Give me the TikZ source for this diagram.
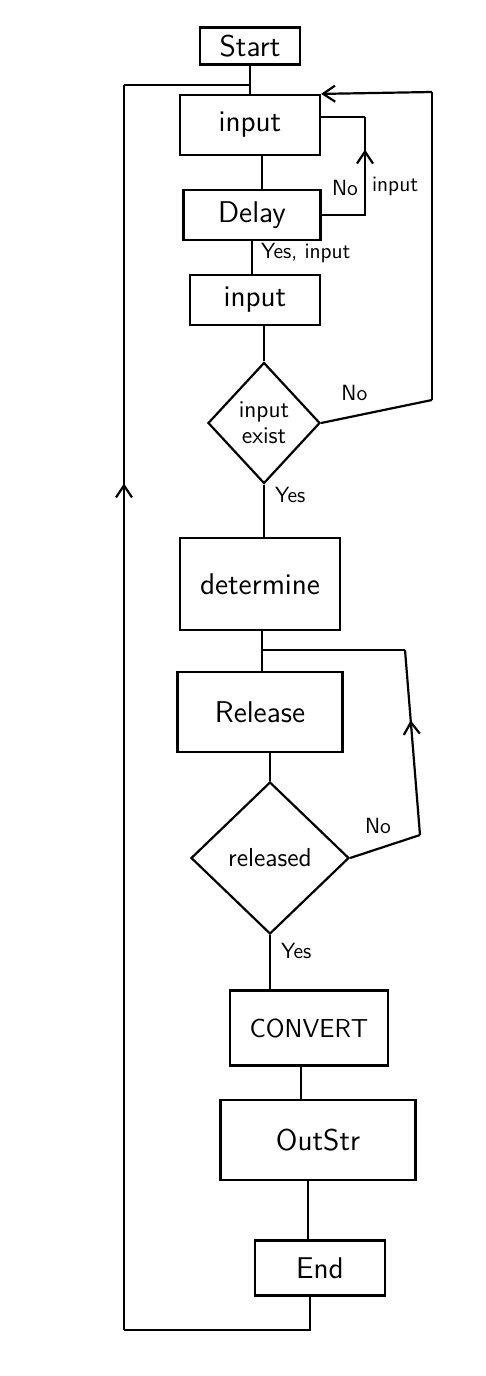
\documentclass[tikz,border=0pt]{standalone}
\usetikzlibrary{shapes.geometric,arrows.meta,decorations.markings}
\begin{document}
\begin{tikzpicture}[x=0.5pt,y=-0.5pt,
  every path/.style={line width=1.1pt},
  box/.style={draw, rectangle, inner sep=2pt, font=\sffamily\fontsize{15}{17}\selectfont},
  dec/.style={draw, diamond, inner sep=0pt, align=center, font=\sffamily\fontsize{12}{13}\selectfont},
  lbl/.style={font=\sffamily\fontsize{11}{12}\selectfont, inner sep=1pt},
  midup/.style={postaction={decorate, decoration={markings,
     mark=at position #1 with {\arrow{Straight Barb[length=6pt,width=8pt]}}}}},
  endarrow/.style={-{Straight Barb[length=6pt,width=8pt]}}
]
\useasboundingbox (0,0) rectangle (486,1376);

% nodes
\node[box, minimum width=50pt, minimum height=18.5pt] (start) at (250,46) {Start};
\node[box, minimum width=70pt, minimum height=30pt] (in1) at (250,125) {input};
\node[box, minimum width=68.5pt, minimum height=25pt] (delay) at (252,215) {Delay};
\node[box, minimum width=65pt, minimum height=25pt] (in2) at (255,300) {input};
\node[dec, minimum width=56pt, minimum height=60.5pt] (d1) at (264,423) {input\\exist};
\node[box, minimum width=80pt, minimum height=46pt] (det) at (260,584) {determine};
\node[box, minimum width=82.5pt, minimum height=40pt] (rel) at (260,712) {Release};
\node[dec, minimum width=79pt, minimum height=76pt, font=\sffamily\fontsize{13}{14}\selectfont] (d2) at (270,858) {released};
\node[box, minimum width=79pt, minimum height=37.5pt, font=\sffamily\fontsize{13}{15}\selectfont] (conv) at (309,1028) {CONVERT};
\node[box, minimum width=97.5pt, minimum height=40pt] (out) at (318,1140) {OutStr};
\node[box, minimum width=65pt, minimum height=27.5pt] (end) at (320,1268) {End};

% helper coordinates
\coordinate (jtop) at (250,85);
\coordinate (lbl1) at (124,1330);
\coordinate (ltl) at (124,85);
\coordinate (dl1) at (365,117);
\coordinate (nr1) at (432,400);
\coordinate (nr2) at (432,92);
\coordinate (rr1) at (420,835);
\coordinate (rr2) at (405,650);
\coordinate (jrel) at (262,650);

% main flow
\draw (start) -- (in1);
\draw ([xshift=6pt]in1.south) -- ([xshift=6pt]in1.south |- delay.north);
\draw (delay.south) -- node[lbl, right=3pt, pos=0.35] {Yes, input} (delay.south |- in2.north);
\draw (d1.north |- in2.south) -- (d1.north);
\draw (d1.south) -- node[lbl, right=4pt, pos=0.2] {Yes} (d1.south |- det.north);
\draw (jrel |- det.south) -- (jrel |- rel.north);
\draw (d2.north |- rel.south) -- (d2.north);
\draw (d2.south) -- node[lbl, right=4pt, pos=0.3] {Yes} (d2.south |- conv.north);
\draw ([xshift=-4pt]conv.south) -- ([xshift=-4pt]conv.south |- out.north);
\draw ([xshift=-5pt]out.south) -- ([xshift=-5pt]out.south |- end.north);

% outer loop from End back to top
\draw ([xshift=-5pt]end.south) |- (lbl1);
\draw[midup=0.68] (lbl1) -- (ltl);
\draw (ltl) -- (jtop);

% Delay "No input" loop
\draw (delay.east) -| (365,210);
\draw[midup=0.65] (365,210) -- (dl1);
\draw (dl1) -- (in1.east |- dl1);
\node[lbl, anchor=east] (noA) at (361,188) {No};
\node[lbl, anchor=west] (inputA) at (369,186) {input};

% input exist "No" loop
\draw (d1.east) -- node[lbl, above=6pt, pos=0.3] {No} (nr1);
\draw (nr1) -- (nr2);
\draw[endarrow] (nr2) -- (in1.north east);

% released "No" loop
\draw (d2.east) -- node[lbl, above=6pt, pos=0.4] {No} (rr1);
\draw[midup=0.62] (rr1) -- (rr2);
\draw (rr2) -- (jrel);
\end{tikzpicture}
\end{document}
